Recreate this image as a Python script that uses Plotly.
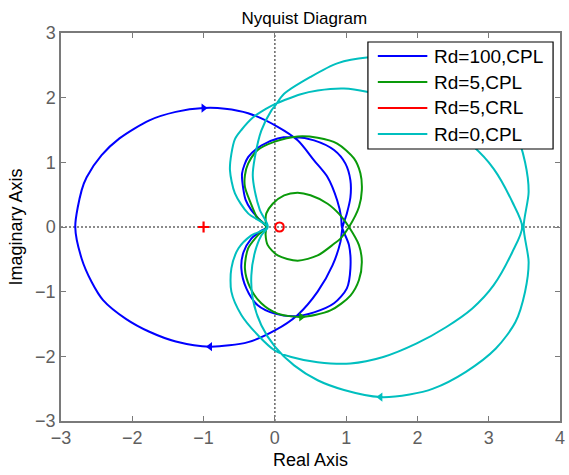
import plotly.graph_objects as go

# ---- Nyquist curves (real / imaginary parts) ----
rd100_re = [-0.12, -0.22, -0.33, -0.41, -0.44, -0.46, -0.375, -0.19, 0.04, 0.27, 0.55, 0.83, 0.99, 1.06, 1.06, 1.01, 0.95,
            0.92, 0.81, 0.60, 0.32, 0.0, -0.375, -0.91, -1.39, -1.76, -2.09, -2.41, -2.57, -2.71, -2.80,
            -2.71, -2.64, -2.43, -2.18, -1.76, -1.39, -1.0, -0.70, -0.375, 0.04, 0.32, 0.55, 0.74, 0.875, 0.93, 0.94,
            1.04, 1.06, 1.01, 0.83, 0.55, 0.27, 0.0, -0.24, -0.40, -0.47, -0.44, -0.33, -0.22, -0.12]
rd100_im = [0.0, 0.12, 0.26, 0.42, 0.57, 0.83, 1.08, 1.26, 1.37, 1.39, 1.34, 1.19, 0.98, 0.72, 0.46, 0.21, 0.0,
            -0.23, -0.59, -1.0, -1.36, -1.60, -1.78, -1.85, -1.77, -1.62, -1.42, -1.13, -0.85, -0.49, 0.0,
            0.57, 0.77, 1.11, 1.37, 1.65, 1.78, 1.84, 1.83, 1.76, 1.55, 1.34, 1.03, 0.77, 0.41, 0.15, 0.0,
            -0.28, -0.64, -0.95, -1.18, -1.32, -1.38, -1.34, -1.21, -0.95, -0.64, -0.39, -0.18, -0.08, 0.0]

rd5_re = [-0.12, -0.25, -0.35, -0.42, -0.42, -0.375, -0.24, 0.0, 0.32, 0.60, 0.875, 1.11, 1.20, 1.22, 1.18, 1.04,
          0.92, 0.83, 0.60, 0.32, 0.04, -0.10, -0.13, -0.12,
          -0.13, -0.12, -0.03, 0.13, 0.32, 0.50, 0.74, 0.92, 1.04,
          1.18, 1.22, 1.18, 1.06, 0.78, 0.37, 0.04, -0.19, -0.35, -0.42, -0.375, -0.24, -0.12]
rd5_im = [0.0, 0.15, 0.40, 0.62, 0.80, 0.98, 1.19, 1.32, 1.40, 1.38, 1.29, 1.06, 0.83, 0.57, 0.31, 0.0,
          -0.18, -0.26, -0.44, -0.52, -0.44, -0.28, -0.12, 0.0,
          0.12, 0.21, 0.36, 0.49, 0.53, 0.49, 0.36, 0.18, 0.0,
          -0.28, -0.54, -0.82, -1.06, -1.29, -1.39, -1.34, -1.18, -0.93, -0.64, -0.33, -0.13, 0.0]

crl_re = [0.125, 0.11, 0.065, 0.02, 0.005, 0.02, 0.065, 0.11, 0.125]
crl_im = [0.0, 0.05, 0.07, 0.05, 0.0, -0.05, -0.07, -0.05, 0.0]

rd0_re = [-0.10, -0.375, -0.56, -0.63, -0.61, -0.56, -0.47, -0.30, -0.12, 0.0, 0.13, 0.35, 0.60, 0.97, 1.29, 1.71,
          1.99, 2.40, 2.77, 3.07, 3.33, 3.47,
          3.33, 3.07, 2.77, 2.40, 1.99, 1.52, 1.06, 0.60, 0.23, 0.0, -0.24, -0.47, -0.61, -0.61, -0.51, -0.33, -0.10,
          -0.21, -0.28, -0.31, -0.28, -0.19, -0.05, 0.0, 0.13, 0.50, 0.875, 1.29, 1.71, 1.89, 2.22, 2.68, 3.10,
          3.375, 3.51, 3.56, 3.49,
          3.56, 3.51, 3.375, 3.10, 2.68, 2.22, 1.89, 1.48, 0.97, 0.60, 0.27, 0.0, -0.19, -0.31, -0.33, -0.28,
          -0.19, -0.10]
rd0_im = [0.0, 0.21, 0.52, 0.88, 1.13, 1.36, 1.50, 1.70, 1.83, 1.90, 1.96, 2.05, 2.11, 2.14, 2.09, 1.96,
          1.80, 1.55, 1.26, 0.90, 0.39, 0.0,
          -0.39, -0.90, -1.26, -1.55, -1.80, -2.01, -2.11, -2.09, -2.01, -1.91, -1.67, -1.36, -1.0, -0.64, -0.33, -0.13, 0.0,
          0.26, 0.55, 0.80, 1.08, 1.49, 1.80, 1.87, 2.06, 2.32, 2.53, 2.62, 2.61, 2.59, 2.50, 2.24, 1.88,
          1.47, 1.0, 0.54, 0.0,
          -0.54, -1.0, -1.47, -1.88, -2.24, -2.50, -2.59, -2.63, -2.52, -2.37, -2.14, -1.85, -1.52, -1.11, -0.75, -0.39,
          -0.13, 0.0]

# direction arrows: (real, imag, symbol)
arrows_rd100 = [(-1.0, 1.84, "triangle-right"), (-0.91, -1.85, "triangle-left")]
arrows_rd5 = [(0.37, -1.39, "triangle-right")]
arrows_rd0 = [(1.48, -2.63, "triangle-left")]

critical_point = (-1.0, 0.0)

series = [
    ("Rd=100,CPL", rd100_re, rd100_im, "#0000ff", arrows_rd100),
    ("Rd=5,CPL", rd5_re, rd5_im, "#0a9a0a", arrows_rd5),
    ("Rd=5,CRL", crl_re, crl_im, "#ff0000", []),
    ("Rd=0,CPL", rd0_re, rd0_im, "#00bfbf", arrows_rd0),
]

FONT = "Liberation Sans, Arial, sans-serif"
AXIS_GREY = "#7a7a7a"
TICK_GREY = "#5f5f5f"

# plot-area geometry in pixels (used to place the boxed legend)
W, H = 569, 475
ML, MR, MT, MB = 61, 4, 33, 54
PW, PH = W - ML - MR, H - MT - MB


def px_to_paper(px, py):
    return (px - ML) / PW, (H - MB - py) / PH


fig = go.Figure()

for name, re, im, color, arrows in series:
    fig.add_trace(go.Scatter(x=re, y=im, mode="lines", name=name, showlegend=False,
                             line=dict(color=color, width=2, shape="spline", smoothing=0.8)))
    for ax_, ay_, sym in arrows:
        fig.add_trace(go.Scatter(x=[ax_], y=[ay_], mode="markers", showlegend=False,
                                 marker=dict(symbol=sym, size=8, color=color)))

fig.add_trace(go.Scatter(x=[critical_point[0]], y=[critical_point[1]], mode="markers",
                         showlegend=False,
                         marker=dict(symbol="cross-thin", size=8,
                                     line=dict(color="#ff0000", width=2.2))))

# dotted real / imaginary axis lines
fig.add_shape(type="line", x0=0, x1=0, y0=-3, y1=3, layer="below",
              line=dict(color="#666666", width=1.5, dash="2px,2px"))
fig.add_shape(type="line", x0=-3, x1=4, y0=0, y1=0, layer="below",
              line=dict(color="#666666", width=1.5, dash="2px,2px"))

# boxed legend in the upper right corner
bx0, by0 = px_to_paper(371, 42)
bx1, by1 = px_to_paper(558, 149)
fig.add_shape(type="rect", xref="paper", yref="paper", x0=bx0, x1=bx1, y0=by1, y1=by0,
              line=dict(color="black", width=1.2), fillcolor="white", layer="above")
row_y = [56, 82, 108, 134]
for (name, _, _, color, _), py in zip(series, row_y):
    lx0, ly = px_to_paper(381, py)
    lx1, _ = px_to_paper(431, py)
    tx, _ = px_to_paper(436, py)
    fig.add_shape(type="line", xref="paper", yref="paper", x0=lx0, x1=lx1, y0=ly, y1=ly,
                  line=dict(color=color, width=2), layer="above")
    fig.add_annotation(xref="paper", yref="paper", x=tx, y=ly, text=name, showarrow=False,
                       xanchor="left", yanchor="middle",
                       font=dict(family=FONT, size=19, color="black"))

axis_common = dict(showgrid=False, zeroline=False, ticks="inside", ticklen=5,
                   tickcolor=AXIS_GREY, tickwidth=1, showline=True, linecolor=AXIS_GREY,
                   linewidth=1.5, mirror="ticks", dtick=1,
                   tickfont=dict(family=FONT, size=18, color=TICK_GREY))

fig.update_layout(
    width=W, height=H,
    margin=dict(l=ML, r=MR, t=MT, b=MB),
    paper_bgcolor="white", plot_bgcolor="white",
    title=dict(text="Nyquist Diagram", x=0.535, xanchor="center",
               y=1 - 18 / H, yanchor="middle", yref="container",
               font=dict(family=FONT, size=17, color="black")),
    xaxis=dict(range=[-3, 4], title=dict(text="Real Axis", standoff=6,
               font=dict(family=FONT, size=18, color="black")), **axis_common),
    yaxis=dict(range=[-3, 3], title=dict(text="Imaginary Axis", standoff=8,
               font=dict(family=FONT, size=18, color="black")), **axis_common),
    showlegend=False,
)

fig.write_html("out.html")
